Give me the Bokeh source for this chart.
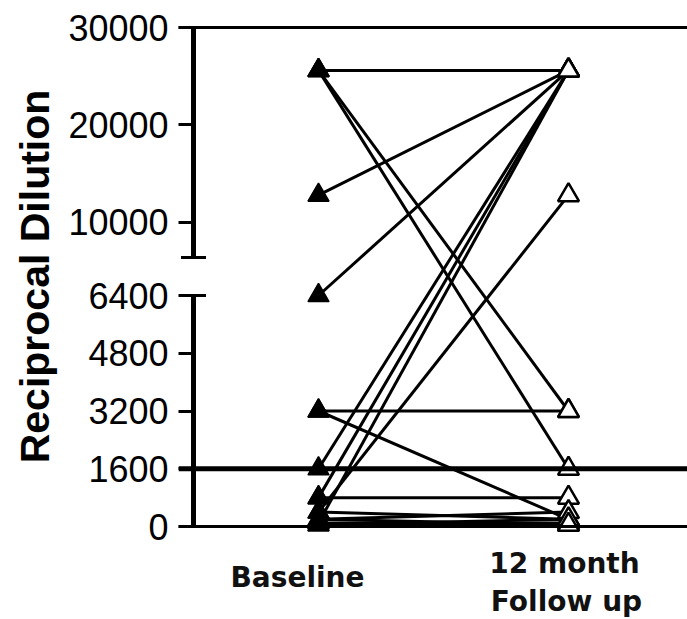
from bokeh.plotting import figure
from bokeh.layouts import column
from bokeh.models import ColumnDataSource, FixedTicker, Span
from bokeh.core.properties import value
from bokeh.embed import file_html
from bokeh.resources import INLINE

# Reciprocal dilution titres for each subject, paired baseline -> 12 month follow up
baseline = [25600, 25600, 25600, 12800, 6400, 3200, 3200, 1600, 800,
            100, 400, 800, 400, 200, 200, 100, 50, 50]
followup = [25600, 3200, 1600, 25600, 25600, 3200, 200, 25600, 25600,
            25600, 12800, 800, 200, 400, 50, 100, 200, 50]

lower_ticks = [0, 1600, 3200, 4800, 6400]
upper_ticks = [10000, 20000, 30000]
cutoff = 1600
y_title = "Reciprocal Dilution"
group_labels = ["Baseline", "12 month", "Follow up"]
group_x = [1, 2, 2]

# Broken y scale: 0-6400 linear on the lower segment, 6400-30000 compressed above a gap
LOW_TOP = 6400
HIGH_MAX = 30000
LOW_SPAN = 231.0
GAP = 38.0
HIGH_SPAN = 230.0


def to_axis(v, upper=None):
    if upper is None:
        upper = v > LOW_TOP
    if not upper:
        return v * LOW_SPAN / LOW_TOP
    return LOW_SPAN + GAP + (v - LOW_TOP) * HIGH_SPAN / (HIGH_MAX - LOW_TOP)


n = len(baseline)
src = ColumnDataSource(dict(
    x0=[1] * n, x1=[2] * n,
    y0=[to_axis(v) for v in baseline],
    y1=[to_axis(v) for v in followup],
))

p = figure(width=687, height=547, x_range=(0.44, 2.476), y_range=(-21, 521),
           output_backend="svg", toolbar_location=None, x_axis_location=None,
           min_border_left=178, min_border_right=0, min_border_top=5,
           min_border_bottom=0)
p.outline_line_color = None
p.grid.visible = False

# y axis ticks and labels
tick_vals = lower_ticks + upper_ticks
tick_pos = [to_axis(v) for v in tick_vals]
ax = p.yaxis[0]
ax.ticker = FixedTicker(ticks=tick_pos)
ax.major_label_overrides = {pos: str(v) for pos, v in zip(tick_pos, tick_vals)}
ax.axis_line_color = None
ax.major_tick_in = 15
ax.major_tick_out = 0
ax.major_tick_line_width = 3
ax.major_tick_line_color = "black"
ax.minor_tick_line_color = None
ax.major_label_text_font = "Liberation Sans"
ax.major_label_text_font_size = "36px"
ax.major_label_text_color = "black"
ax.major_label_standoff = 10
ax.axis_label = y_title
ax.axis_label_text_font = "Liberation Sans"
ax.axis_label_text_font_style = "bold"
ax.axis_label_text_font_size = "41px"
ax.axis_label_text_color = "black"
ax.axis_label_standoff = 7

# broken axis line: two pieces with end caps at the break
seg_x = 0.5
p.segment(x0=[seg_x, seg_x], y0=[to_axis(0), to_axis(LOW_TOP, True)],
          x1=[seg_x, seg_x], y1=[to_axis(LOW_TOP, False), to_axis(HIGH_MAX)],
          line_color="black", line_width=5)
p.segment(x0=[seg_x - 0.05, seg_x - 0.05],
          y0=[to_axis(LOW_TOP, False), to_axis(LOW_TOP, True)],
          x1=[seg_x + 0.05, seg_x + 0.05],
          y1=[to_axis(LOW_TOP, False), to_axis(LOW_TOP, True)],
          line_color="black", line_width=3)

# frame lines at the top and bottom of the scale, and the cutoff line
p.add_layout(Span(location=to_axis(HIGH_MAX), dimension="width",
                  line_color="black", line_width=3))
p.add_layout(Span(location=to_axis(0), dimension="width",
                  line_color="black", line_width=3))
p.add_layout(Span(location=to_axis(cutoff), dimension="width",
                  line_color="black", line_width=5))

# paired lines and markers
p.segment(x0="x0", y0="y0", x1="x1", y1="y1", source=src,
          line_color="black", line_width=3)
p.scatter(x="x0", y="y0", source=src, marker="triangle", size=21,
          fill_color="black", line_color="black", line_width=1.5)
p.scatter(x="x1", y="y1", source=src, marker="triangle", size=21,
          fill_color="white", line_color="black", line_width=2.5)

# group names under each column, sharing the x scale of the chart
q = figure(width=687, height=72, x_range=p.x_range, y_range=(0, 72),
           output_backend="svg", toolbar_location=None,
           x_axis_location=None, y_axis_location=None,
           min_border_left=178, min_border_right=0, min_border_top=0,
           min_border_bottom=0)
q.outline_line_color = None
q.grid.visible = False
lab_src = ColumnDataSource(dict(x=group_x, text=group_labels,
                                y=[42, 56, 18], dx=[-21, -4, -2]))
q.text(x="x", y="y", text="text", x_offset="dx", source=lab_src,
       text_font=value("DejaVu Sans"), text_font_style="bold",
       text_font_size="28px", text_color="#111111",
       text_align="center", text_baseline="alphabetic")

layout = column(p, q, spacing=0)
open("out.html", "w").write(file_html(layout, INLINE))
